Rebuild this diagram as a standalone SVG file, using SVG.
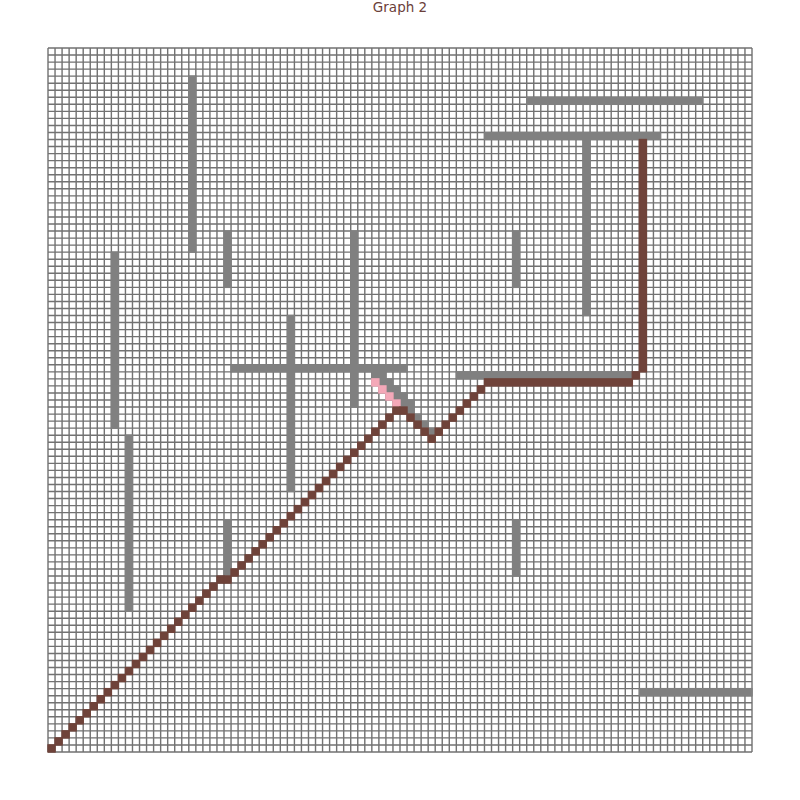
<svg xmlns="http://www.w3.org/2000/svg" xmlns:xlink="http://www.w3.org/1999/xlink" width="800" height="800" viewBox="0 0 800 800">
<style>
.title{font-family:"DejaVu Sans","Liberation Sans",sans-serif;font-size:13.5px;fill:#6b4039;text-anchor:middle}
.grid{fill:none;stroke:#727272;stroke-width:0.2}
.wall{fill:#808080;stroke:#808080;stroke-width:0.2}
.path{fill:#6f433a;stroke:#6f433a;stroke-width:0.2}
.pink{fill:#f4a8b8;stroke:#f4a8b8;stroke-width:0.2}
</style>
<defs>
<rect id="cell" x="0" y="0" width="1" height="1"/>
</defs>
<rect width="800" height="800" fill="#ffffff"/>
<text class="title" x="400" y="12">Graph 2</text>
<g transform="translate(48,48) scale(7.04)">
<g id="grid">
<rect x="0" y="0" width="100" height="100" fill="#ffffff"/>
<path class="grid" d="M0 0V100M1 0V100M2 0V100M3 0V100M4 0V100M5 0V100M6 0V100M7 0V100M8 0V100M9 0V100M10 0V100M11 0V100M12 0V100M13 0V100M14 0V100M15 0V100M16 0V100M17 0V100M18 0V100M19 0V100M20 0V100M21 0V100M22 0V100M23 0V100M24 0V100M25 0V100M26 0V100M27 0V100M28 0V100M29 0V100M30 0V100M31 0V100M32 0V100M33 0V100M34 0V100M35 0V100M36 0V100M37 0V100M38 0V100M39 0V100M40 0V100M41 0V100M42 0V100M43 0V100M44 0V100M45 0V100M46 0V100M47 0V100M48 0V100M49 0V100M50 0V100M51 0V100M52 0V100M53 0V100M54 0V100M55 0V100M56 0V100M57 0V100M58 0V100M59 0V100M60 0V100M61 0V100M62 0V100M63 0V100M64 0V100M65 0V100M66 0V100M67 0V100M68 0V100M69 0V100M70 0V100M71 0V100M72 0V100M73 0V100M74 0V100M75 0V100M76 0V100M77 0V100M78 0V100M79 0V100M80 0V100M81 0V100M82 0V100M83 0V100M84 0V100M85 0V100M86 0V100M87 0V100M88 0V100M89 0V100M90 0V100M91 0V100M92 0V100M93 0V100M94 0V100M95 0V100M96 0V100M97 0V100M98 0V100M99 0V100M100 0V100M0 0H100M0 1H100M0 2H100M0 3H100M0 4H100M0 5H100M0 6H100M0 7H100M0 8H100M0 9H100M0 10H100M0 11H100M0 12H100M0 13H100M0 14H100M0 15H100M0 16H100M0 17H100M0 18H100M0 19H100M0 20H100M0 21H100M0 22H100M0 23H100M0 24H100M0 25H100M0 26H100M0 27H100M0 28H100M0 29H100M0 30H100M0 31H100M0 32H100M0 33H100M0 34H100M0 35H100M0 36H100M0 37H100M0 38H100M0 39H100M0 40H100M0 41H100M0 42H100M0 43H100M0 44H100M0 45H100M0 46H100M0 47H100M0 48H100M0 49H100M0 50H100M0 51H100M0 52H100M0 53H100M0 54H100M0 55H100M0 56H100M0 57H100M0 58H100M0 59H100M0 60H100M0 61H100M0 62H100M0 63H100M0 64H100M0 65H100M0 66H100M0 67H100M0 68H100M0 69H100M0 70H100M0 71H100M0 72H100M0 73H100M0 74H100M0 75H100M0 76H100M0 77H100M0 78H100M0 79H100M0 80H100M0 81H100M0 82H100M0 83H100M0 84H100M0 85H100M0 86H100M0 87H100M0 88H100M0 89H100M0 90H100M0 91H100M0 92H100M0 93H100M0 94H100M0 95H100M0 96H100M0 97H100M0 98H100M0 99H100M0 100H100"/>
</g>
<g id="walls" class="wall">
<rect x="20" y="4" width="1" height="25"/>
<rect x="25" y="26" width="1" height="8"/>
<rect x="25" y="67" width="1" height="8"/>
<rect x="9" y="29" width="1" height="25"/>
<rect x="11" y="55" width="1" height="25"/>
<rect x="34" y="38" width="1" height="25"/>
<rect x="43" y="26" width="1" height="25"/>
<rect x="26" y="45" width="25" height="1"/>
<rect x="68" y="7" width="25" height="1"/>
<rect x="62" y="12" width="25" height="1"/>
<rect x="76" y="13" width="1" height="25"/>
<rect x="66" y="26" width="1" height="8"/>
<rect x="66" y="67" width="1" height="8"/>
<rect x="58" y="46" width="26" height="1"/>
<rect x="84" y="91" width="16" height="1"/>
<use href="#cell" x="46" y="46"/><use href="#cell" x="47" y="46"/>
<use href="#cell" x="47" y="47"/><use href="#cell" x="48" y="47"/>
<use href="#cell" x="48" y="48"/><use href="#cell" x="49" y="48"/>
<use href="#cell" x="49" y="49"/><use href="#cell" x="50" y="49"/>
<use href="#cell" x="50" y="50"/><use href="#cell" x="51" y="50"/>
<use href="#cell" x="51" y="51"/>
<use href="#cell" x="52" y="52"/>
<use href="#cell" x="53" y="53"/>
<use href="#cell" x="54" y="54"/>
</g>
<g id="visited" class="pink">
<use href="#cell" x="46" y="47"/>
<use href="#cell" x="47" y="48"/>
<use href="#cell" x="48" y="49"/>
<use href="#cell" x="49" y="50"/>
</g>
<g id="route" class="path">
<use href="#cell" x="0" y="99"/><use href="#cell" x="1" y="98"/><use href="#cell" x="2" y="97"/><use href="#cell" x="3" y="96"/><use href="#cell" x="4" y="95"/><use href="#cell" x="5" y="94"/><use href="#cell" x="6" y="93"/><use href="#cell" x="7" y="92"/><use href="#cell" x="8" y="91"/><use href="#cell" x="9" y="90"/><use href="#cell" x="10" y="89"/><use href="#cell" x="11" y="88"/><use href="#cell" x="12" y="87"/><use href="#cell" x="13" y="86"/><use href="#cell" x="14" y="85"/><use href="#cell" x="15" y="84"/><use href="#cell" x="16" y="83"/><use href="#cell" x="17" y="82"/><use href="#cell" x="18" y="81"/><use href="#cell" x="19" y="80"/><use href="#cell" x="20" y="79"/><use href="#cell" x="21" y="78"/><use href="#cell" x="22" y="77"/><use href="#cell" x="23" y="76"/><use href="#cell" x="24" y="75"/>
<use href="#cell" x="25" y="75"/>
<use href="#cell" x="26" y="74"/><use href="#cell" x="27" y="73"/><use href="#cell" x="28" y="72"/><use href="#cell" x="29" y="71"/><use href="#cell" x="30" y="70"/><use href="#cell" x="31" y="69"/><use href="#cell" x="32" y="68"/><use href="#cell" x="33" y="67"/><use href="#cell" x="34" y="66"/><use href="#cell" x="35" y="65"/><use href="#cell" x="36" y="64"/><use href="#cell" x="37" y="63"/><use href="#cell" x="38" y="62"/><use href="#cell" x="39" y="61"/><use href="#cell" x="40" y="60"/><use href="#cell" x="41" y="59"/><use href="#cell" x="42" y="58"/><use href="#cell" x="43" y="57"/><use href="#cell" x="44" y="56"/><use href="#cell" x="45" y="55"/><use href="#cell" x="46" y="54"/><use href="#cell" x="47" y="53"/><use href="#cell" x="48" y="52"/><use href="#cell" x="49" y="51"/>
<use href="#cell" x="50" y="51"/>
<use href="#cell" x="51" y="52"/><use href="#cell" x="52" y="53"/><use href="#cell" x="53" y="54"/><use href="#cell" x="54" y="55"/>
<use href="#cell" x="55" y="54"/><use href="#cell" x="56" y="53"/><use href="#cell" x="57" y="52"/><use href="#cell" x="58" y="51"/><use href="#cell" x="59" y="50"/><use href="#cell" x="60" y="49"/><use href="#cell" x="61" y="48"/>
<rect x="62" y="47" width="21" height="1"/>
<use href="#cell" x="83" y="46"/>
<rect x="84" y="13" width="1" height="33"/>
</g>
</g>
</svg>
